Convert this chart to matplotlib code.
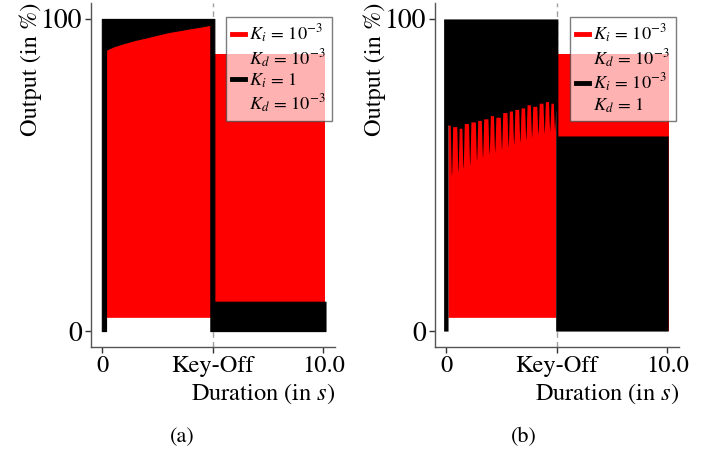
import matplotlib
matplotlib.use("Agg")
import matplotlib.pyplot as plt
from matplotlib.lines import Line2D

plt.rcParams['font.family'] = ['STIXGeneral', 'DejaVu Serif']
plt.rcParams['mathtext.fontset'] = 'stix'

# ---------------- data ----------------
xticks = [0, 5, 10]
xticklabels = ['0', 'Key-Off', '10.0']
yticks = [0, 100]
yticklabels = ['0', '100']
key_off = 5

# red series (K_i = 1e-3, K_d = 1e-3): envelope of the fast PWM oscillation
red_on_t = [0.08, 0.17, 0.5, 0.95, 1.5, 2.0, 2.46, 3.0, 3.5, 3.97, 4.5, 4.87, 4.95]
red_on_upper = [89.0, 90.1, 91.2, 92.2, 93.3, 94.1, 94.9, 95.8, 96.4, 97.0, 97.6, 98.1, 98.2]
red_on_lower = 4.4
red_off_t = [5.0, 10.08]
red_off_upper = 88.8
red_off_lower = 0.0

# black series, panel (a) (K_i = 1, K_d = 1e-3)
ba_start = [-0.02, 0.17]          # full-range stripe at start
ba_bar = [4.89, 5.07]              # full-range stripe at key-off
ba_off_t = [5.07, 10.1]
ba_off_upper = 9.4

# black series, panel (b) (K_i = 1e-3, K_d = 1)
bb_start = [-0.12, 0.08]
bb_finger_t = [0.235, 0.53, 0.76, 1.06, 1.37, 1.64, 1.94, 2.19, 2.50,
               2.80, 3.05, 3.33, 3.60, 3.86, 4.15, 4.43, 4.68, 4.90]
bb_finger_bottom = [49.7, 51.0, 52.0, 53.2, 54.6, 55.6, 56.5, 57.3, 58.1,
                    58.9, 59.6, 60.4, 61.2, 62.0, 62.8, 63.3, 63.9, 64.2]
bb_gap_peak = [66.0, 65.5, 65.0, 66.5, 67.0, 67.5, 68.0, 69.0, 68.5, 70.0,
               70.5, 71.0, 71.5, 72.5, 72.0, 73.0, 73.5, 73.0, 72.0]
bb_on_end = 4.95
bb_off_t = [5.05, 10.04]
bb_off_upper = 62.5

RED = '#ff0000'
BLK = '#000000'
FS = 17.6

fig = plt.figure(figsize=(7.13, 4.53), dpi=100)
W, H = 713, 453
ax1 = fig.add_axes([91 / W, 1 - 347 / H, 244 / W, 344 / H])
ax2 = fig.add_axes([435 / W, 1 - 347 / H, 244 / W, 344 / H])


def draw_red(ax):
    ax.fill_between(red_on_t, red_on_lower, red_on_upper, color=RED, lw=0, zorder=2)
    ax.fill_between(red_off_t, red_off_lower, red_off_upper, color=RED, lw=0, zorder=2)


# panel (a)
draw_red(ax1)
on_t = red_on_t[1:-1]
on_u = red_on_upper[1:-1]
xa = [ba_start[0], ba_start[1], ba_start[1]] + on_t + [ba_bar[0], ba_bar[0], ba_bar[1], ba_off_t[0], ba_off_t[1]]
la = [0, 0, on_u[0]] + on_u + [on_u[-1], 0, 0, 0, 0]
ua = [100, 100, 100] + [100] * len(on_u) + [100, 100, 100, ba_off_upper, ba_off_upper]
ax1.fill_between(xa, la, ua, color=BLK, lw=0.8, edgecolor=BLK, joinstyle='round', zorder=3)

# panel (b)
draw_red(ax2)
hw = 0.055
xb = [bb_start[0], bb_start[1], bb_start[1]]
lb = [0, 0, bb_gap_peak[0]]
for i, f in enumerate(bb_finger_t):
    d = bb_gap_peak[i] - bb_finger_bottom[i]
    xb += [f - hw, f - hw * 0.45, f - hw * 0.2, f, f + hw * 0.2, f + hw * 0.45, f + hw]
    lb += [bb_gap_peak[i], bb_finger_bottom[i] + 0.35 * d, bb_finger_bottom[i] + 1.2,
           bb_finger_bottom[i], bb_finger_bottom[i] + 1.2,
           bb_finger_bottom[i] + 0.35 * (bb_gap_peak[i + 1] - bb_finger_bottom[i]),
           bb_gap_peak[i + 1]]
xb += [bb_on_end, bb_on_end, bb_off_t[0], bb_off_t[0], bb_off_t[1]]
lb += [bb_gap_peak[-1], 0, 0, 0, 0]
ub = [100] * (len(xb) - 2) + [bb_off_upper, bb_off_upper]
ax2.fill_between(xb, lb, ub, color=BLK, lw=0, zorder=3)

labels = {
    ax1: [r'$K_i\,=\,10^{-3}$', r'$K_d\,=\,10^{-3}$', r'$K_i\,=\,1$', r'$K_d\,=\,10^{-3}$'],
    ax2: [r'$K_i\,=\,10^{-3}$', r'$K_d\,=\,10^{-3}$', r'$K_i\,=\,10^{-3}$', r'$K_d\,=\,1$'],
}

for ax, tag, cx in [(ax1, '(a)', 182), (ax2, '(b)', 524)]:
    ax.set_xlim(-0.51, 10.53)
    ax.set_ylim(-5.1, 105.1)
    ax.axvline(key_off, color='#a0a0a0', lw=1.0, ls=(0, (4, 3)), zorder=1)
    for s in ['top', 'right']:
        ax.spines[s].set_visible(False)
    for s in ['left', 'bottom']:
        ax.spines[s].set_color('#555555')
        ax.spines[s].set_linewidth(1.0)
    ax.set_xticks(xticks)
    ax.set_xticklabels(xticklabels)
    ax.set_yticks(yticks)
    ax.set_yticklabels(yticklabels)
    ax.tick_params(axis='both', length=4.5, width=1.0, color='#333333', pad=2)
    ax.tick_params(axis='x', labelsize=FS)
    ax.tick_params(axis='y', labelsize=20)
    ax.set_xlabel('Duration (in $s$)', fontsize=FS, loc='right', labelpad=3)
    ax.set_ylabel('Output (in %)', fontsize=FS, loc='top')
    ax.yaxis.set_label_coords(-0.2, 1.0)
    lab = labels[ax]
    handles = [Line2D([], [], color=RED, lw=3.5),
               Line2D([], [], color='none', lw=3.5),
               Line2D([], [], color=BLK, lw=3.5),
               Line2D([], [], color='none', lw=3.5)]
    leg = ax.legend(handles, lab, loc='upper right',
                    bbox_to_anchor=(1 - 3.3 / 244, 1 - 13.7 / 344),
                    borderaxespad=0, fontsize=13.2, handlelength=0.75,
                    handletextpad=0.2, labelspacing=0.12, borderpad=0.32,
                    fancybox=False, framealpha=0.7, edgecolor='#444444')
    leg.get_frame().set_linewidth(1.0)
    leg.set_zorder(5)
    fig.text(cx / W, 1 - 437 / H, tag, fontsize=16, ha='center', va='center')

fig.savefig('out.png', dpi=100)
